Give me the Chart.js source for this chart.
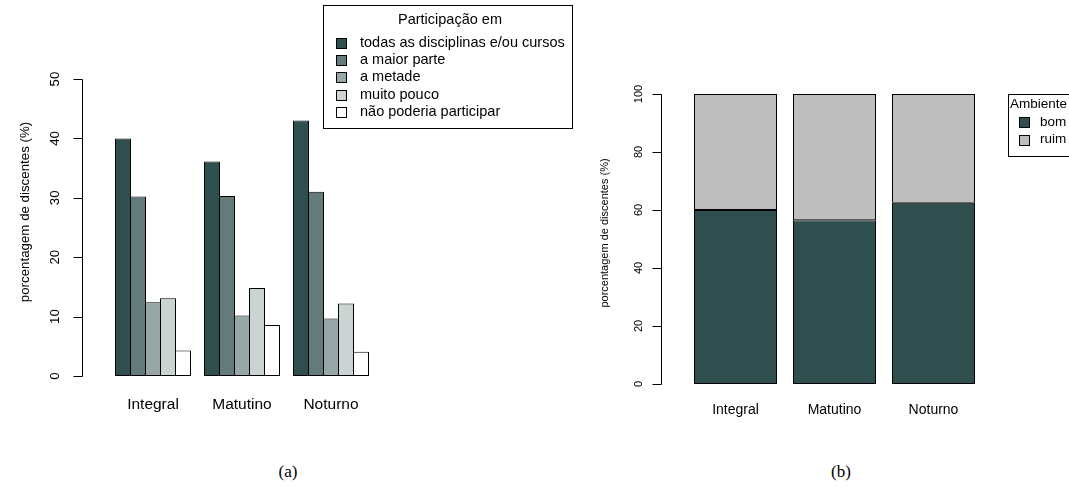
<!DOCTYPE html>
<html>
<head>
<meta charset="utf-8">
<script src="https://cdn.jsdelivr.net/npm/chart.js@4"></script>
<style>
  body { margin: 0; background: #fff; width: 1069px; height: 492px; overflow: hidden; position: relative; }
  canvas { position: absolute; top: 0; }
  .cap { position: absolute; font-family: "Liberation Serif", "DejaVu Serif", serif; font-size: 17px; color: #000;
         transform: translate(-50%, -50%); white-space: nowrap; }
</style>
</head>
<body>
<canvas id="ca" width="600" height="440" style="left:0px;width:600px;height:440px"></canvas>
<canvas id="cb" width="535" height="440" style="left:534px;width:535px;height:440px"></canvas>
<div class="cap" style="left:288px;top:472px">(a)</div>
<div class="cap" style="left:841px;top:472px">(b)</div>
<script>
// Turnos (categorias)
const turnos = ['Integral', 'Matutino', 'Noturno'];

// (a) Participação em disciplinas/cursos, % de discentes por turno
const participacaoRotulos = ['todas as disciplinas e/ou cursos', 'a maior parte', 'a metade', 'muito pouco', 'não poderia participar'];
const todas      = [40.0, 36.1, 43.0];
const maiorParte = [30.2, 30.3, 31.0];
const metade     = [12.4, 10.2, 9.7];
const muitoPouco = [13.1, 14.8, 12.2];
const naoPoderia = [4.3, 8.6, 4.1];
const ticksA = [0, 10, 20, 30, 40, 50];

// (b) Ambiente, % de discentes por turno
const ambienteRotulos = ['bom', 'ruim'];
const ambienteBom  = [60.0, 56.5, 62.5];
const ambienteRuim = [40.0, 43.5, 37.5];
const ticksB = [0, 20, 40, 60, 80, 100];

const coresA = ['#2F4F4F', '#637B7B', '#97A7A7', '#CBD3D3', '#FFFFFF'];
const coresB = ['#2F4F4F', '#BEBEBE'];
const SANS = '"Liberation Sans", Arial, Helvetica, sans-serif';

// Eixo y no estilo R: linha só entre o primeiro e o último tick, rótulos girados
const rAxis = {
  id: 'rAxis',
  afterDraw(chart, args, o) {
    const ctx = chart.ctx, y = chart.scales.y;
    ctx.save();
    ctx.strokeStyle = '#000';
    ctx.lineWidth = 1;
    const yTop = Math.round(y.getPixelForValue(o.ticks[o.ticks.length - 1])) + 0.5;
    const yBot = Math.round(y.getPixelForValue(o.ticks[0])) + 0.5;
    ctx.beginPath();
    ctx.moveTo(o.x + 0.5, yTop);
    ctx.lineTo(o.x + 0.5, yBot);
    o.ticks.forEach(v => {
      const p = Math.round(y.getPixelForValue(v)) + 0.5;
      ctx.moveTo(o.x - o.tickLen + 0.5, p);
      ctx.lineTo(o.x + 0.5, p);
    });
    ctx.stroke();
    ctx.fillStyle = '#000';
    ctx.textAlign = 'center';
    ctx.textBaseline = 'middle';
    ctx.font = o.font;
    o.ticks.forEach(v => {
      ctx.save();
      ctx.translate(o.labelX, y.getPixelForValue(v));
      ctx.rotate(-Math.PI / 2);
      ctx.fillText(String(v), 0, 0);
      ctx.restore();
    });
    ctx.font = o.titleFont;
    ctx.save();
    ctx.translate(o.titleX, o.titleY);
    ctx.rotate(-Math.PI / 2);
    ctx.fillText(o.title, 0, 0);
    ctx.restore();
    ctx.restore();
  }
};

// Legenda em caixa com título, gerada a partir dos datasets
const rLegend = {
  id: 'rLegend',
  afterDraw(chart, args, o) {
    const ctx = chart.ctx;
    ctx.save();
    ctx.lineWidth = 1;
    ctx.strokeStyle = '#000';
    ctx.fillStyle = '#fff';
    ctx.fillRect(o.box.x, o.box.y, o.box.w, o.box.h);
    ctx.strokeRect(o.box.x + 0.5, o.box.y + 0.5, o.box.w, o.box.h);
    ctx.font = o.font;
    ctx.fillStyle = '#000';
    ctx.textBaseline = 'middle';
    ctx.textAlign = o.titleAlign;
    ctx.fillText(o.title, o.titleX, o.titleY);
    ctx.textAlign = 'left';
    chart.data.datasets.forEach((ds, i) => {
      const yy = o.itemY + i * o.step;
      const top = Math.round(yy - o.key / 2);
      ctx.fillStyle = ds.backgroundColor;
      ctx.fillRect(o.keyX, top, o.key, o.key);
      ctx.strokeRect(o.keyX + 0.5, top + 0.5, o.key, o.key);
      ctx.fillStyle = '#000';
      ctx.fillText(ds.label, o.textX, yy);
    });
    ctx.restore();
  }
};

// (a) barras agrupadas
const seriesA = [todas, maiorParte, metade, muitoPouco, naoPoderia];
new Chart(document.getElementById('ca'), {
  type: 'bar',
  data: {
    labels: turnos,
    datasets: seriesA.map((vals, i) => ({
      label: participacaoRotulos[i],
      data: vals,
      backgroundColor: coresA[i],
      borderColor: '#000',
      borderWidth: 1,
      borderSkipped: false,
      categoryPercentage: 75 / 89,
      barPercentage: 16 / 15
    }))
  },
  options: {
    responsive: false,
    animation: false,
    events: [],
    layout: { padding: { left: 108.5, right: 224.5, top: 79, bottom: 0 } },
    scales: {
      x: {
        grid: { display: false, drawTicks: false },
        border: { display: false },
        ticks: { color: '#000', font: { family: SANS, size: 15.5 }, padding: 19 },
        afterFit(s) { s.height = 64; }
      },
      y: { display: false, min: 0, max: 50 }
    },
    plugins: {
      legend: { display: false },
      tooltip: { enabled: false },
      rAxis: {
        ticks: ticksA, x: 82, tickLen: 9, labelX: 55.5,
        font: '13.3px ' + SANS, titleFont: '13.3px ' + SANS,
        title: 'porcentagem de discentes (%)', titleX: 25, titleY: 212
      },
      rLegend: {
        box: { x: 323, y: 5, w: 249, h: 123 },
        font: '14.5px ' + SANS,
        title: 'Participação em', titleAlign: 'center', titleX: 450, titleY: 20,
        itemY: 43, step: 17.2, key: 10, keyX: 336, textX: 360
      }
    }
  },
  plugins: [rAxis, rLegend]
});

// (b) barras empilhadas
const seriesB = [ambienteBom, ambienteRuim];
new Chart(document.getElementById('cb'), {
  type: 'bar',
  data: {
    labels: turnos,
    datasets: seriesB.map((vals, i) => ({
      label: ambienteRotulos[i],
      data: vals,
      backgroundColor: coresB[i],
      borderColor: '#000',
      borderWidth: 1,
      borderSkipped: false,
      categoryPercentage: 83 / 99,
      barPercentage: 1
    }))
  },
  options: {
    responsive: false,
    animation: false,
    events: [],
    layout: { padding: { left: 152, right: 86, top: 94, bottom: 0 } },
    scales: {
      x: {
        stacked: true,
        grid: { display: false, drawTicks: false },
        border: { display: false },
        ticks: { color: '#000', font: { family: SANS, size: 14 }, padding: 18 },
        afterFit(s) { s.height = 56; }
      },
      y: { display: false, stacked: true, min: 0, max: 100 }
    },
    plugins: {
      legend: { display: false },
      tooltip: { enabled: false },
      rAxis: {
        ticks: ticksB, x: 127, tickLen: 9, labelX: 105,
        font: '11px ' + SANS, titleFont: '11px ' + SANS,
        title: 'porcentagem de discentes (%)', titleX: 71, titleY: 233
      },
      rLegend: {
        box: { x: 474, y: 94, w: 80, h: 62 },
        font: '13.5px ' + SANS,
        title: 'Ambiente', titleAlign: 'left', titleX: 476, titleY: 104,
        itemY: 122, step: 17.5, key: 10, keyX: 485, textX: 506
      }
    }
  },
  plugins: [rAxis, rLegend]
});
</script>
</body>
</html>
